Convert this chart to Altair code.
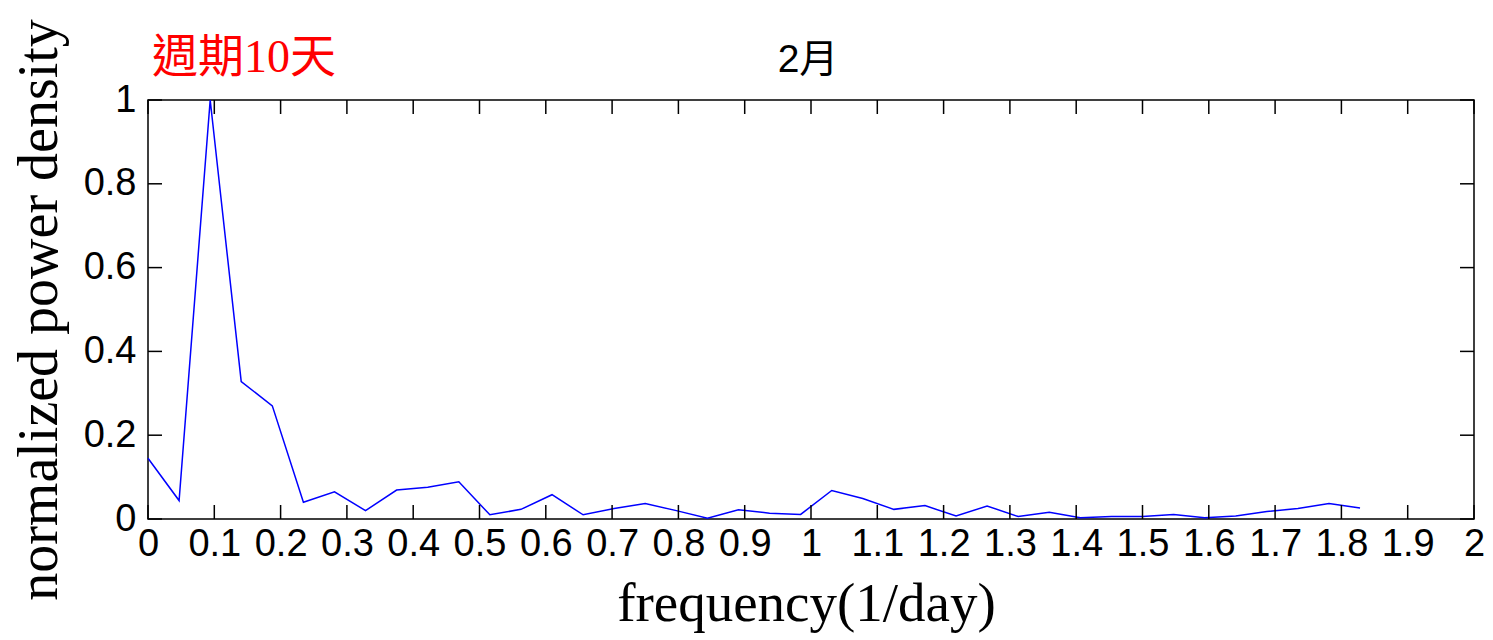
import altair as alt
import pandas as pd

# frequency (1/day) of each spectral estimate
freq = [0, 0.0469, 0.0938, 0.1406, 0.1875, 0.2344, 0.2813, 0.3281, 0.3750, 0.4219,
        0.4688, 0.5156, 0.5625, 0.6094, 0.6563, 0.7031, 0.7500, 0.7969, 0.8438, 0.8906,
        0.9375, 0.9844, 1.0313, 1.0781, 1.1250, 1.1719, 1.2188, 1.2656, 1.3125, 1.3594,
        1.4063, 1.4531, 1.5000, 1.5469, 1.5938, 1.6406, 1.6875, 1.7344, 1.7813, 1.8281]
# normalized power density
power = [0.145, 0.044, 1.0, 0.328, 0.270, 0.040, 0.065, 0.020, 0.069, 0.076,
         0.089, 0.010, 0.023, 0.058, 0.010, 0.025, 0.037, 0.020, 0.002, 0.022,
         0.014, 0.011, 0.068, 0.049, 0.023, 0.032, 0.007, 0.031, 0.006, 0.016,
         0.003, 0.006, 0.006, 0.011, 0.003, 0.007, 0.018, 0.025, 0.037, 0.026]

x_ticks = [0, 0.1, 0.2, 0.3, 0.4, 0.5, 0.6, 0.7, 0.8, 0.9, 1,
           1.1, 1.2, 1.3, 1.4, 1.5, 1.6, 1.7, 1.8, 1.9, 2]
y_ticks = [0, 0.2, 0.4, 0.6, 0.8, 1]

title_main = "2月"
title_note = "週期10天"

W, H = 1326, 419
df = pd.DataFrame({"f": freq, "p": power})
xt = pd.DataFrame({"t": x_ticks})
yt = pd.DataFrame({"t": y_ticks})

xscale = alt.Scale(domain=[0, 2], nice=False, zero=False)
yscale = alt.Scale(domain=[0, 1], nice=False)

label_font = "Liberation Sans"
serif = "Liberation Serif"

line = alt.Chart(df).mark_line(color="#0000FF", strokeWidth=1.5).encode(
    x=alt.X("f:Q", scale=xscale,
            axis=alt.Axis(values=x_ticks, format="~g", tickSize=0, domain=False, grid=False,
                          labelFont=label_font, labelFontSize=38, labelColor="#000",
                          labelPadding=6, labelFlush=False, labelOverlap=False,
                          title="frequency(1/day)", titleFont=serif, titleFontSize=55,
                          titleFontWeight="normal", titleColor="#000", titlePadding=14,
                          titleX=658)),
    y=alt.Y("p:Q", scale=yscale,
            axis=alt.Axis(values=y_ticks, format="~g", tickSize=0, domain=False, grid=False,
                          labelFont=label_font, labelFontSize=38, labelColor="#000",
                          labelPadding=12, labelFlush=False, labelOverlap=False,
                          title="normalized power density", titleFont=serif, titleFontSize=56,
                          titleFontWeight="normal", titleColor="#000", titlePadding=15)),
)

tick_len = 14
xb = alt.Chart(xt).mark_rule(color="#000", strokeWidth=1.5).encode(
    x=alt.X("t:Q", scale=xscale), y=alt.value(H), y2=alt.value(H - tick_len))
xtop = alt.Chart(xt).mark_rule(color="#000", strokeWidth=1.5).encode(
    x=alt.X("t:Q", scale=xscale), y=alt.value(0), y2=alt.value(tick_len))
yl = alt.Chart(yt).mark_rule(color="#000", strokeWidth=1.5).encode(
    y=alt.Y("t:Q", scale=yscale), x=alt.value(0), x2=alt.value(tick_len))
yr = alt.Chart(yt).mark_rule(color="#000", strokeWidth=1.5).encode(
    y=alt.Y("t:Q", scale=yscale), x=alt.value(W), x2=alt.value(W - tick_len))

note = alt.Chart(pd.DataFrame({"s": [title_note]})).mark_text(
    color="#FF0000", font="Liberation Serif, Noto Sans CJK TC", fontSize=46,
    align="left", baseline="alphabetic").encode(
    text="s:N", x=alt.value(4), y=alt.value(-28))

main = alt.Chart(pd.DataFrame({"s": [title_main]})).mark_text(
    color="#000", font="Liberation Sans, Noto Sans CJK TC", fontSize=39,
    align="center", baseline="alphabetic").encode(
    text="s:N", x=alt.value(W / 2 - 3), y=alt.value(-28))

chart = alt.layer(line, xb, xtop, yl, yr, note, main).properties(
    width=W, height=H,
    autosize=alt.AutoSizeParams(type="none"),
    padding={"left": 148, "top": 100, "right": 1493 - 148 - W, "bottom": 640 - 100 - H},
    background="white",
).configure_view(stroke="#000", strokeWidth=1.5)

chart.save("out.html", embed_options={"renderer": "svg", "actions": False})
